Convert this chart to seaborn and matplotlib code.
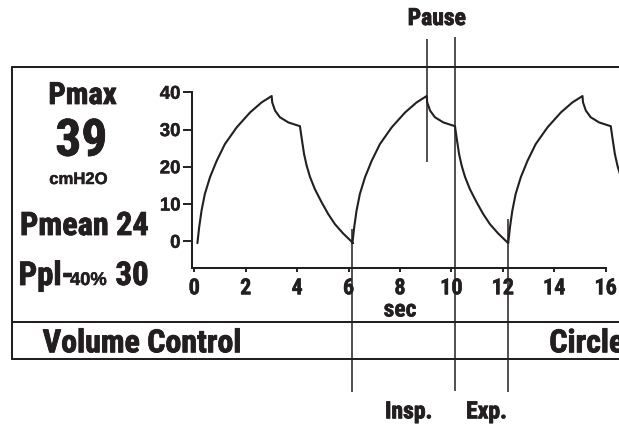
import os
import numpy as np
import pandas as pd
import matplotlib
matplotlib.use("Agg")
import matplotlib.pyplot as plt
import matplotlib.transforms as mtransforms
import matplotlib.patheffects as pe
from matplotlib import font_manager as fm
import seaborn as sns

INK = "#231f20"

# One volume-controlled breath, times (s) relative to the start of inspiration
rise_t = [0.00, 0.07, 0.16, 0.29, 0.49, 0.75, 1.07, 1.53, 2.05, 2.50, 2.89]
rise_p = [-0.5, 3.8, 8.2, 12.7, 17.2, 21.6, 26.1, 30.6, 34.6, 37.3, 39.0]
pause_t = [2.89, 2.91, 3.02, 3.21, 3.54, 3.99]
pause_p = [39.0, 37.3, 35.1, 33.3, 31.9, 30.9]
exp_t = [3.99, 4.06, 4.15, 4.25, 4.38, 4.57, 4.83, 5.09, 5.35, 5.67, 6.06]
exp_p = [30.9, 27.5, 23.4, 20.3, 17.3, 14.0, 10.5, 7.3, 4.6, 2.1, -0.5]

# Start of each breath on the time axis
cycle_starts = [0.12, 6.15, 12.21]

# Display readouts
pmax = "39"
pmean = "24"
ppl = "30"
mode_label = "Volume Control"
circuit_label = "Circle"

x_ticks = [0, 2, 4, 6, 8, 10, 12, 14, 16]
y_ticks = [0, 10, 20, 30, 40]

# Assemble the pressure trace
breath_t = np.array(rise_t + pause_t[1:] + exp_t[1:])
breath_p = np.array(rise_p + pause_p[1:] + exp_p[1:])
frames = []
for k, t0 in enumerate(cycle_starts):
    frames.append(pd.DataFrame({"t": t0 + breath_t, "p": breath_p, "breath": k}))
trace = pd.DataFrame(pd.concat(frames, ignore_index=True))

sns.set_style("ticks")


def pick_font(preferred):
    files = {os.path.basename(f.fname).lower(): f.fname for f in fm.fontManager.ttflist}
    for key in preferred:
        for base, path in files.items():
            if key in base:
                return fm.FontProperties(fname=path)
    return None


narrow = pick_font([
    "liberationsansnarrow-bold.", "robotocondensed-bold.", "notosans-condensedbold.",
    "notosans-semicondensedbold.", "dejavusanscondensed-bold.", "opensans-condbold",
    "opensans_condensed-bold", "roboto-bold.",
])
if narrow is None:
    narrow = fm.FontProperties(family="Roboto", weight="bold")
wide = pick_font(["liberationsans-bold.", "roboto-bold."])
if wide is None:
    wide = fm.FontProperties(family="DejaVu Sans", weight="bold")


def fp(size, base=None):
    f = (base or narrow).copy()
    f.set_size(size)
    return f


# slight outline so the lettering reads as a heavy display face
heavy = [pe.withStroke(linewidth=0.6, foreground=INK)]
medium = [pe.withStroke(linewidth=0.35, foreground=INK)]

W, H = 619, 427
fig = plt.figure(figsize=(W / 100, H / 100), dpi=100)
fig.patch.set_facecolor("white")

x_min, x_max = -0.078, 16.52
y_min, y_max = -7.25, 44.0
ax = fig.add_axes([192.3 / W, 1 - 269.3 / H, (W - 192.3) / W, (269.3 - 78.4) / H])
ax.set_facecolor("white")

sns.lineplot(data=trace, x="t", y="p", units="breath", estimator=None, sort=False,
             color=INK, linewidth=1.5, ax=ax)

ax.set_xlim(x_min, x_max)
ax.set_ylim(y_min, y_max)
ax.set_xticks(x_ticks)
ax.set_yticks(y_ticks)
ax.set_xticklabels([str(v) for v in x_ticks], fontproperties=fp(16), color=INK)
ax.set_yticklabels([str(v) for v in y_ticks], fontproperties=fp(13.4, wide), color=INK)
for lab in ax.get_xticklabels() + ax.get_yticklabels():
    lab.set_path_effects(medium)
ax.tick_params(axis="y", length=6.5, width=1.4, pad=2, color=INK)
ax.tick_params(axis="x", length=3, width=1.4, pad=3.5, color=INK)
for side in ("top", "right"):
    ax.spines[side].set_visible(False)
for side in ("left", "bottom"):
    ax.spines[side].set_linewidth(1.45)
    ax.spines[side].set_color(INK)
ax.spines["left"].set_bounds(y_min, 40)
ax.spines["bottom"].set_bounds(x_min, 16)
ax.set_ylabel("")
ax.set_xlabel("sec", fontproperties=fp(17), color=INK, path_effects=medium)
ax.xaxis.label.set_va("baseline")
ax.xaxis.set_label_coords((8 - x_min) / (x_max - x_min), (269.3 - 317.5) / (269.3 - 78.4))

# Phase markers for the second breath
blend = mtransforms.blended_transform_factory(ax.transData, fig.transFigure)
t_insp = cycle_starts[1]
t_pause0 = cycle_starts[1] + rise_t[-1]
t_pause1 = cycle_starts[1] + pause_t[-1]
t_exp = cycle_starts[2]


def fy(py):
    return 1 - py / H


marker_lines = [
    (t_insp, 230, 393),
    (t_pause0, 40, 163),
    (t_pause1, 38, 392),
    (t_exp, 220, 393),
]
for t, y0, y1 in marker_lines:
    ax.plot([t, t], [fy(y0), fy(y1)], transform=blend, color=INK, lw=1.1,
            clip_on=False, solid_capstyle="butt")

for x, py, label in [(9.43, 26, "Pause"), (8.34, 419.3, "Insp."), (11.37, 419.3, "Exp.")]:
    ax.text(x, fy(py), label, transform=blend, ha="center", va="baseline",
            fontproperties=fp(17), color=INK, path_effects=heavy)

# Monitor frame
box_lw = 1.45
left_x = 11.7 / W
for py in (68.3, 322.7, 360):
    fig.add_artist(plt.Line2D([left_x, 1.0], [fy(py), fy(py)], color=INK, lw=box_lw))
fig.add_artist(plt.Line2D([left_x, left_x], [fy(68.3), fy(360)], color=INK, lw=box_lw))

# Readouts
readouts = [
    (82.5, 105, "Pmax", "center", fp(22), heavy),
    (81.2, 156.7, pmax, "center", fp(37), heavy),
    (78.3, 185, "cmH2O", "center", fp(12, wide), medium),
    (20, 236, "Pmean " + pmean, "left", fp(23.2), heavy),
    (18.5, 286, "Ppl-", "left", fp(23.6), heavy),
    (70, 286, "40%", "left", fp(13.2, wide), medium),
    (115.5, 286, ppl, "left", fp(23.6), heavy),
    (42.7, 353.3, mode_label, "left", fp(23), heavy),
    (549.3, 353.3, circuit_label, "left", fp(23), heavy),
]
for px, py, label, ha, prop, fx in readouts:
    fig.text(px / W, fy(py), label, ha=ha, va="baseline", fontproperties=prop,
             color=INK, path_effects=fx)

fig.savefig("out.png", dpi=100, facecolor="white")
